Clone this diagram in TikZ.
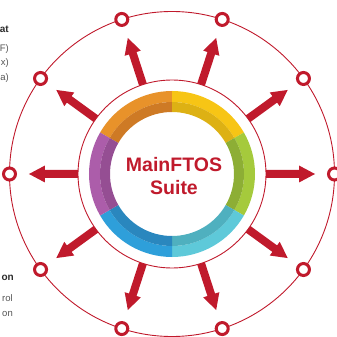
\documentclass[tikz,border=0pt]{standalone}
\usepackage{fontspec}
\setmainfont{Liberation Sans}
\usepackage{tikz}
\definecolor{suitered}{HTML}{C01A2C}
\definecolor{orangeA}{HTML}{E8922A}
\definecolor{orangeB}{HTML}{CE7A25}
\definecolor{yellowA}{HTML}{F7C515}
\definecolor{yellowB}{HTML}{DDB114}
\definecolor{greenA}{HTML}{A5CA3C}
\definecolor{greenB}{HTML}{8DAE35}
\definecolor{cyanA}{HTML}{5EC9D9}
\definecolor{cyanB}{HTML}{4FB0BF}
\definecolor{blueA}{HTML}{2E9FDA}
\definecolor{blueB}{HTML}{2A87BE}
\definecolor{purpleA}{HTML}{AC5DAA}
\definecolor{purpleB}{HTML}{954E93}
\definecolor{labeldark}{HTML}{2B2B2B}
\definecolor{labelgray}{HTML}{555555}
\tikzset{
    hub/.style={circle, draw=suitered, line width=3pt, fill=white,
        minimum size=12pt, inner sep=0pt},
    sidehead/.style={anchor=base east, inner sep=0pt, text=labeldark,
        font=\fontsize{10}{12}\selectfont\bfseries},
    sideline/.style={anchor=base east, inner sep=0pt, text=labelgray,
        font=\fontsize{9.5}{12}\selectfont}
}

\begin{document}
\begin{tikzpicture}[x=1pt, y=1pt]
        \useasboundingbox (-172, -163) rectangle (165, 174);
        % outer ring of satellites
        \draw[suitered, line width=0.9pt] (0, 0) circle[radius=162.5pt];
        \draw[suitered, line width=0.9pt] (0, 0) circle[radius=94pt];
        % arrows
        \foreach \a in {0, 36, ..., 324} {
            \fill[suitered, rotate=\a] (94, -4) -- (127, -4) -- (127, -8.5) --
                (143, 0) -- (127, 8.5) -- (127, 4) -- (94, 4) -- cycle;
        }
        \foreach \a [count=\i] in {0, 36, ..., 324} {
            \node[hub] (n\i) at (\a:162.5) {};
        }
        % colour ring
        \foreach \s/\e/\ca/\cb in {90/150/orangeA/orangeB, 30/90/yellowA/yellowB,
                -30/30/greenA/greenB, -90/-30/cyanA/cyanB,
                -150/-90/blueA/blueB, 150/210/purpleA/purpleB} {
            \fill[\ca] (\s:83) arc[start angle=\s, end angle=\e, radius=83pt] --
                (\e:72) arc[start angle=\e, end angle=\s, radius=72pt] -- cycle;
            \fill[\cb] (\s:72) arc[start angle=\s, end angle=\e, radius=72pt] --
                (\e:62) arc[start angle=\e, end angle=\s, radius=62pt] -- cycle;
        }
        \node[text=suitered, align=center, font=\fontsize{19.5}{23}\selectfont\bfseries]
            (suite) at (2, -2) {MainFTOS\\Suite};
        % cut-off labels on the left
        \node[sidehead] (topHead) at (-163, 141) {at};
        \node[sideline] (topA) at (-163, 122) {F)};
        \node[sideline] (topB) at (-163, 108) {x)};
        \node[sideline] (topC) at (-163, 93) {a)};
        \node[sidehead] (botHead) at (-158, -106) {on};
        \node[sideline] (botA) at (-159, -127) {rol};
        \node[sideline] (botB) at (-159, -142) {on};
    \end{tikzpicture}
\end{document}
